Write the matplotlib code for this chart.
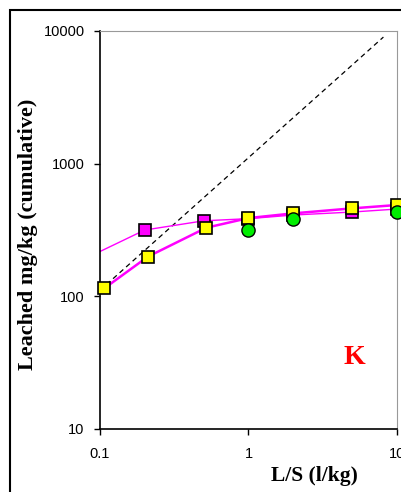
import matplotlib
matplotlib.use('Agg')
import matplotlib.pyplot as plt
from matplotlib.patches import Rectangle

# data
ls_a = [0.05, 0.2, 0.5, 1, 2, 5, 10]
leach_a = [150, 316, 371, 385, 410, 432, 455]

ls_b = [0.107, 0.21, 0.52, 1.0, 2.0, 4.95, 10]
leach_b = [115, 199, 329, 389, 422, 460, 488]

ls_c = [1, 2, 10]
leach_c = [316, 380, 434]

ls_total = [0.1, 0.2, 0.5, 1, 2, 5, 8.1]
leach_total = [111, 222, 555, 1110, 2220, 5550, 9000]

W, H = 402, 492
fig = plt.figure(figsize=(W / 100, H / 100), dpi=100)
fig.patches.append(Rectangle((10 / W, -0.1), 1.2, 1 - 10 / H + 0.1,
                             transform=fig.transFigure, fill=False,
                             edgecolor='black', linewidth=1.5))

ax = fig.add_axes([100 / W, 1 - 429 / H, 297 / W, 398 / H])
ax.set_xscale('log')
ax.set_yscale('log')
ax.set_xlim(0.1, 10)
ax.set_ylim(10, 10000)

# total availability (dashed)
ax.plot(ls_total, leach_total, color='black', linestyle=(0, (4, 3)), linewidth=0.9)

# series lines
ax.plot(ls_a, leach_a, color='#ff00ff', linewidth=1.0)
ax.plot(ls_b, leach_b, color='#ff00ff', linewidth=1.8)

# markers
ax.plot(ls_a[1:], leach_a[1:], linestyle='none', marker='s', markersize=8,
        markerfacecolor='#ff00ff', markeredgecolor='black', markeredgewidth=1.2,
        clip_on=False, zorder=4)
ax.plot(ls_b, leach_b, linestyle='none', marker='s', markersize=8,
        markerfacecolor='#ffff00', markeredgecolor='black', markeredgewidth=1.2,
        clip_on=False, zorder=5)
ax.plot(ls_c, leach_c, linestyle='none', marker='o', markersize=9.5,
        markerfacecolor='#00ee00', markeredgecolor='black', markeredgewidth=1.0,
        clip_on=False, zorder=6)

ax.text(0.855, 0.18, 'K', transform=ax.transAxes, color='red', fontsize=20,
        fontweight='bold', family='Liberation Serif', ha='center', va='center')

ax.set_xticks([0.1, 1, 10])
ax.set_xticklabels(['0.1', '1', '10'])
ax.set_yticks([10, 100, 1000, 10000])
ax.set_yticklabels(['10', '100', '1000', '10000'])
ax.minorticks_off()
ax.tick_params(axis='both', direction='out', length=4, width=1, labelsize=10.5)
ax.tick_params(axis='x', pad=9)
ax.tick_params(axis='y', pad=7)
for lab in ax.get_xticklabels() + ax.get_yticklabels():
    lab.set_family('Liberation Sans')

for s in ['top', 'right']:
    ax.spines[s].set_color('#999999')
for s in ['left', 'bottom']:
    ax.spines[s].set_color('black')
    ax.spines[s].set_linewidth(1.2)

fig.text(28 / W, 1 - 234 / H, 'Leached mg/kg (cumulative)', rotation=90,
         ha='center', va='center', fontsize=16, fontweight='bold',
         family='Liberation Serif')
fig.text(314 / W, 1 - 476 / H, 'L/S (l/kg)', ha='center', va='center',
         fontsize=15.5, fontweight='bold', family='Liberation Serif')

fig.savefig('out.png', dpi=100)
